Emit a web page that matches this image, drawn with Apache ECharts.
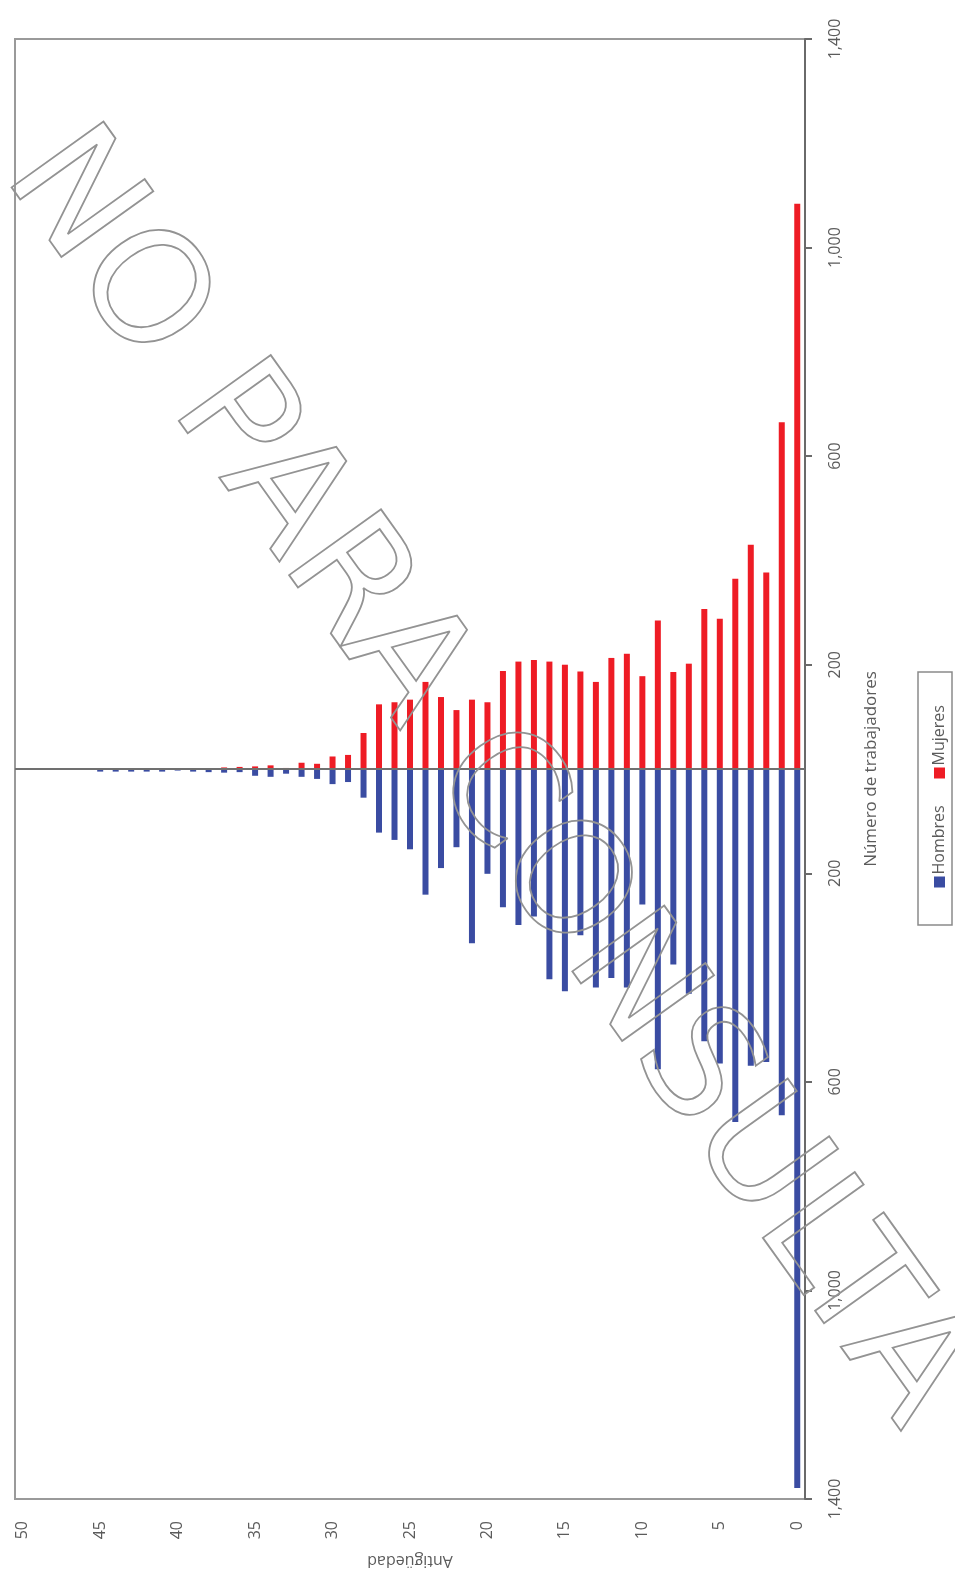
<!DOCTYPE html>
<html>
<head>
<meta charset="utf-8">
<script src="https://cdn.jsdelivr.net/npm/echarts@6/dist/echarts.min.js"></script>
<style>
html,body{margin:0;padding:0;background:#fff;}
#chart{width:955px;height:1579px;}
</style>
</head>
<body>
<div id="chart"></div>
<script>
// Antigüedad (years of seniority) 0..50
const categories = [];
for (let i = 0; i <= 50; i++) categories.push(String(i));

const seriesNames = ['Hombres', 'Mujeres'];

// Number of workers per seniority year, index = Antigüedad
const hombres = [1379, 664, 562, 569, 677, 565, 522, 431, 375, 576,
                 260, 419, 401, 419, 319, 426, 403, 283, 299, 265,
                 201, 334, 150, 190, 241, 154, 136, 122, 55, 25,
                 29, 19, 15, 9, 15, 13, 6, 7, 6, 5,
                 3, 5, 5, 5, 5, 5, 0, 0, 0, 0, 1];
const mujeres = [1084, 665, 377, 430, 365, 288, 307, 202, 186, 285,
                 178, 221, 213, 167, 187, 200, 206, 209, 206, 188,
                 128, 133, 113, 138, 167, 133, 128, 124, 69, 27,
                 24, 10, 12, 2, 7, 5, 4, 3, 1, 0,
                 1, 1, 0, 0, 0, 0, 0, 1, 0, 0, 1];

const valueTicks = [-1400, 1400, 400]; // min, max, interval

const xName = 'Antigüedad';
const yName = 'Número de trabajadores';
const watermark = 'NO PARA CONSULTA';

const BLUE = '#3a4ca2';
const RED = '#ee1c25';
const TXT = '#5b5b5b';
const FONT = 'Open Sans';

const chart = echarts.init(document.getElementById('chart'));

const option = {
  animation: false,
  backgroundColor: '#ffffff',
  textStyle: { fontFamily: FONT },
  grid: {
    left: 15, right: 150, top: 39, bottom: 80,
    show: true, borderColor: '#9a9a9a', borderWidth: 2
  },
  xAxis: {
    type: 'category',
    data: categories,
    inverse: true,
    position: 'bottom',
    boundaryGap: true,
    axisLine: { show: false },
    axisTick: { show: false },
    axisLabel: {
      interval: 4, rotate: 90, margin: 22,
      color: TXT, fontSize: 16, fontFamily: FONT
    },
    name: xName,
    nameLocation: 'middle',
    nameRotate: 180,
    nameGap: 54,
    nameTextStyle: { color: TXT, fontSize: 16, fontFamily: FONT }
  },
  yAxis: {
    type: 'value',
    position: 'right',
    min: valueTicks[0], max: valueTicks[1], interval: valueTicks[2],
    splitLine: { show: false },
    axisLine: { show: true, lineStyle: { color: '#6a6a6a', width: 2 } },
    axisTick: { show: true, length: 7, lineStyle: { color: '#6a6a6a', width: 2 } },
    axisLabel: {
      rotate: 90, margin: 22, color: TXT, fontSize: 16, fontFamily: FONT,
      formatter: v => Math.abs(v).toLocaleString('en-US')
    },
    name: yName,
    nameLocation: 'middle',
    nameRotate: 90,
    nameGap: 58,
    nameTextStyle: { color: TXT, fontSize: 17, fontFamily: FONT }
  },
  series: [
    {
      name: seriesNames[0], type: 'bar', stack: 'total',
      barWidth: 6,
      itemStyle: { color: BLUE },
      data: hombres.map(v => -v)
    },
    {
      name: seriesNames[1], type: 'bar', stack: 'total',
      barWidth: 6,
      itemStyle: { color: RED },
      data: mujeres,
      markLine: {
        silent: true, symbol: 'none', label: { show: false },
        lineStyle: { color: '#707070', width: 2, type: 'solid' },
        data: [{ yAxis: 0 }]
      }
    }
  ],
  graphic: [
    {
      type: 'group',
      x: 935, y: 798.5,
      rotation: Math.PI / 2,
      children: [
        { type: 'rect', shape: { x: -126.5, y: -17, width: 253, height: 34 },
          style: { fill: '#fff', stroke: '#8a8a8a', lineWidth: 1.5 } },
        { type: 'rect', shape: { x: -89, y: -1, width: 11, height: 11 },
          style: { fill: BLUE } },
        { type: 'text', x: -76, y: 4.5,
          style: { text: seriesNames[0], fill: TXT, font: '16px "Open Sans"',
                   textAlign: 'left', textVerticalAlign: 'middle' } },
        { type: 'rect', shape: { x: 20, y: -1, width: 11, height: 11 },
          style: { fill: RED } },
        { type: 'text', x: 33, y: 4.5,
          style: { text: seriesNames[1], fill: TXT, font: '16px "Open Sans"',
                   textAlign: 'left', textVerticalAlign: 'middle' } }
      ]
    },
    {
      type: 'text',
      x: 485, y: 780,
      rotation: -0.95,
      z: 100,
      silent: true,
      style: {
        text: watermark,
        font: '155px "DejaVu Sans"',
        fill: 'transparent',
        stroke: '#939393',
        lineWidth: 1.8,
        textAlign: 'center',
        textVerticalAlign: 'middle'
      }
    }
  ]
};

chart.setOption(option);
</script>
</body>
</html>
